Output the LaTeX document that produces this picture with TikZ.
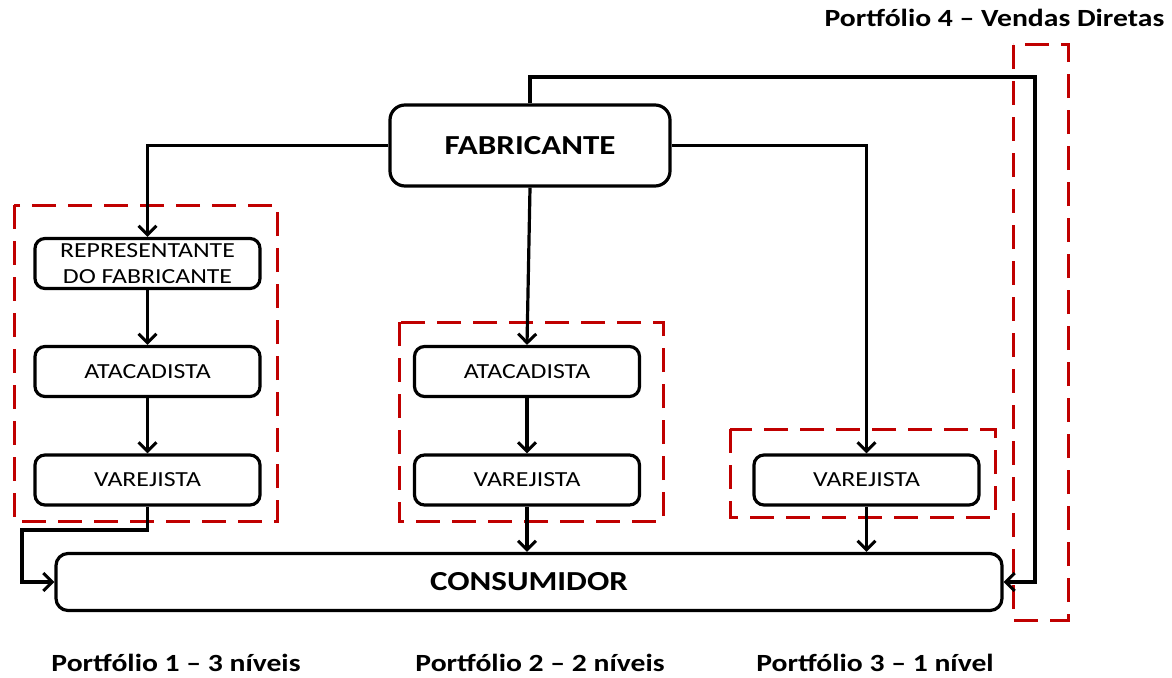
\documentclass[tikz,border=0pt]{standalone}
\usepackage{fontspec}
\setmainfont[FakeStretch=1.2]{Carlito}
\usetikzlibrary{arrows.meta}
\definecolor{grpred}{RGB}{192,0,0}
\tikzset{
  box/.style={draw=black, line width=3.2pt, rounded corners=10pt, fill=white,
    minimum width=225pt, minimum height=50pt, align=center, inner sep=0pt,
    font=\fontsize{21.5}{26}\selectfont},
  bigbox/.style={box, rounded corners=15pt, font=\fontsize{27.5}{30}\selectfont\bfseries},
  arr/.style={draw=black, line width=3.2pt, -{Straight Barb[length=9pt,width=18pt,line width=3pt]}},
  group/.style={draw=grpred, line width=3pt, dash pattern=on 24pt off 12pt},
  caption/.style={font=\fontsize{24.7}{28}\selectfont\bfseries, inner sep=0pt, anchor=base}
}
\begin{document}
\begin{tikzpicture}[x=1pt,y=-1pt]
\useasboundingbox (0,0) rectangle (1172,677);

% channel groups
\draw[group] (14,205) rectangle (277,521);
\draw[group] (399,322) rectangle (663,521);
\draw[group] (730,429) rectangle (995,517);
\draw[group] (1013,45) rectangle (1068,620);

% nodes
\node[bigbox, minimum width=280pt, minimum height=81pt] (fab) at (530,145.5) {FABRICANTE};
\node[box] (rep) at (147.5,263.5) {REPRESENTANTE\\DO FABRICANTE};
\node[box] (ata1) at (147.5,371.5) {ATACADISTA};
\node[box] (var1) at (147.5,480) {VAREJISTA};
\node[box] (ata2) at (527,371.5) {ATACADISTA};
\node[box] (var2) at (527,480) {VAREJISTA};
\node[box] (var3) at (866.5,480) {VAREJISTA};
\node[bigbox, rounded corners=12pt, minimum width=946pt, minimum height=57pt] (cons) at (529,582) {CONSUMIDOR};

% captions
\node[caption] (p4) at (994.5,27) {Portfólio 4 – Vendas Diretas};
\node[caption] (p1) at (176,671) {Portfólio 1 – 3 níveis};
\node[caption] (p2) at (540,671) {Portfólio 2 – 2 níveis};
\node[caption] (p3) at (875,671) {Portfólio 3 – 1 nível};

% route coordinates
\coordinate (topright) at (1035,77);
\coordinate (leftbend) at (22,530);

% connectors
\draw[arr] (fab.west) -| (rep.north);
\draw[arr] (rep.south) -- (ata1.north);
\draw[arr] (ata1.south) -- (var1.north);
\draw[arr] (var1.south) |- (leftbend) |- (cons.west);

\draw[arr] (fab.south) -- (ata2.north);
\draw[arr] (ata2.south) -- (var2.north);
\draw[arr] (var2.south) -- (var2.south |- cons.north);

\draw[arr] (fab.east) -| (var3.north);
\draw[arr] (var3.south) -- (var3.south |- cons.north);

\draw[arr] (fab.north) |- (topright) |- (cons.east);
\end{tikzpicture}
\end{document}
